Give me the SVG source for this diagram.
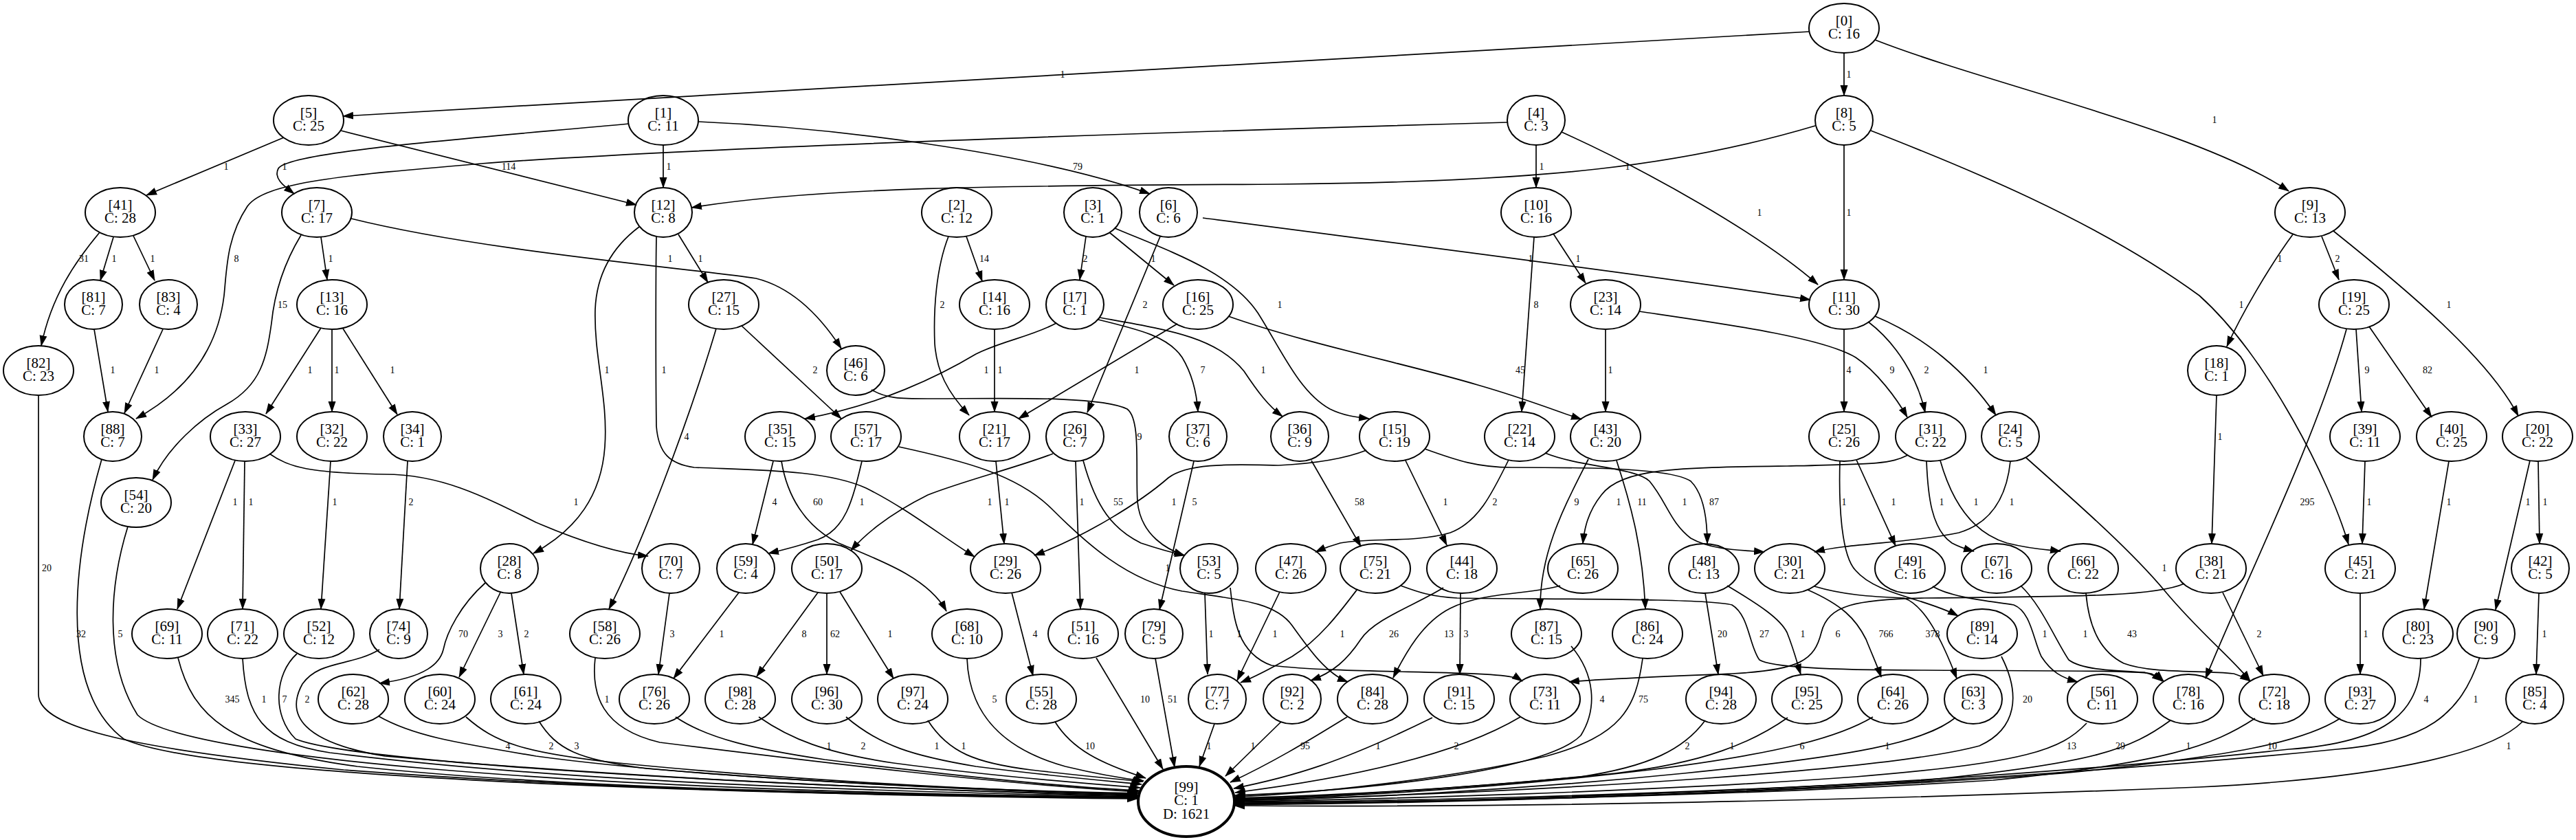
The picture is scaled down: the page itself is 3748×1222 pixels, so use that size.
<svg xmlns="http://www.w3.org/2000/svg" width="3748" height="1222" viewBox="0 0 3748 1222">
<style>
.node ellipse{fill:none;stroke:#000;stroke-width:2}
.node text{font-family:"Liberation Serif","Times New Roman",serif;font-size:21px;text-anchor:middle;fill:#000}
.edges path{fill:none;stroke:#000;stroke-width:1.7;marker-end:url(#ah)}
.lbl text{font-family:"Liberation Serif","Times New Roman",serif;font-size:14px;text-anchor:middle;fill:#000}
</style>
<defs>
<marker id="ah" markerWidth="16" markerHeight="12" refX="15" refY="6" orient="auto" markerUnits="userSpaceOnUse"><path d="M0,0.5L16,6L0,11.5z" fill="#000"/></marker>
</defs>
<rect width="3748" height="1222" fill="#fff"/>
<g id="edges" class="edges">
<path d="M2633,46 L499,169"/>
<path d="M2683,77 L2683,139"/>
<path d="M2728,58 C2900,125 3200,190 3330,278"/>
<path d="M413,200 L213,284"/>
<path d="M496,190 L926,298"/>
<path d="M915,180 C700,200 420,220 405,245 C397,260 415,272 428,282"/>
<path d="M965,211 L965,273"/>
<path d="M1016,177 C1200,185 1500,220 1673,282"/>
<path d="M2193,178 C1700,192 1000,215 700,238 C500,255 385,265 360,300 C330,345 330,390 326,430 C315,520 260,575 198,609"/>
<path d="M2235,211 L2235,273"/>
<path d="M2272,192 C2400,250 2560,340 2645,414"/>
<path d="M2641,183 C2450,240 2250,265 1860,268 C1500,270 1200,270 1006,302"/>
<path d="M2683,211 L2683,407"/>
<path d="M2722,190 C2850,240 3050,320 3200,430 C3300,520 3390,700 3417,792"/>
<path d="M145,338 C110,380 75,430 60,503"/>
<path d="M165,345 L146,408"/>
<path d="M194,343 L225,408"/>
<path d="M438,342 C415,380 400,420 395,470 C388,520 380,560 330,588 C290,610 245,650 222,698"/>
<path d="M467,345 L476,407"/>
<path d="M511,318 C700,365 1000,390 1100,405 C1160,420 1200,470 1224,507"/>
<path d="M930,330 C890,360 868,400 866,450 C864,520 885,580 880,650 C875,720 840,770 776,805"/>
<path d="M987,341 L1030,411"/>
<path d="M955,345 C954,400 954,550 955,620 C958,660 975,675 1010,680 C1100,684 1200,683 1260,710 C1320,740 1370,780 1418,810"/>
<path d="M1380,344 C1362,390 1358,450 1360,500 C1363,540 1378,570 1410,604"/>
<path d="M1406,344 L1429,409"/>
<path d="M1580,344 L1571,407"/>
<path d="M1614,338 L1708,415"/>
<path d="M1622,332 C1700,365 1790,395 1830,455 C1865,510 1890,570 1935,595 C1955,605 1975,607 1992,609"/>
<path d="M1750,317 C2000,350 2400,400 2634,436"/>
<path d="M1688,344 L1582,600"/>
<path d="M2232,345 L2214,599"/>
<path d="M2260,340 L2307,412"/>
<path d="M3336,341 C3300,390 3260,460 3240,504"/>
<path d="M3378,344 L3403,407"/>
<path d="M3395,336 C3500,420 3620,520 3664,605"/>
<path d="M137,479 L157,599"/>
<path d="M237,479 L181,601"/>
<path d="M467,477 L387,602"/>
<path d="M483,479 L483,599"/>
<path d="M499,478 L578,603"/>
<path d="M1042,478 C1000,620 930,800 886,886"/>
<path d="M1079,474 L1224,609"/>
<path d="M1268,567 C1290,580 1310,580 1350,580 C1450,580 1600,575 1640,595 C1660,610 1652,680 1655,730 C1660,780 1700,800 1723,808"/>
<path d="M1447,479 L1447,599"/>
<path d="M1537,470 C1500,490 1460,495 1420,515 C1370,545 1280,590 1171,609"/>
<path d="M1598,465 C1660,480 1700,490 1720,520 C1735,545 1741,570 1743,599"/>
<path d="M1600,462 C1700,480 1770,490 1810,540 C1830,570 1845,590 1866,606"/>
<path d="M1713,471 L1482,609"/>
<path d="M1787,460 C1900,500 2050,530 2150,560 C2220,580 2270,600 2301,610"/>
<path d="M2336,479 L2336,599"/>
<path d="M2385,453 C2500,470 2650,490 2700,520 C2730,540 2760,580 2775,607"/>
<path d="M2683,479 L2683,599"/>
<path d="M2718,468 C2760,500 2790,550 2801,600"/>
<path d="M2728,460 C2800,490 2860,540 2904,604"/>
<path d="M3428,479 L3436,599"/>
<path d="M3447,475 L3538,607"/>
<path d="M3414,479 C3370,640 3260,860 3209,987"/>
<path d="M3225,575 L3218,791"/>
<path d="M3681,670 L3631,887"/>
<path d="M3693,671 L3695,791"/>
<path d="M3441,671 L3437,791"/>
<path d="M3563,671 L3527,886"/>
<path d="M1125,671 L1095,792"/>
<path d="M1137,671 C1145,720 1170,765 1220,790 C1280,815 1350,840 1377,889"/>
<path d="M1254,671 C1240,730 1230,770 1190,785 C1160,795 1140,800 1118,805"/>
<path d="M1308,650 C1400,670 1480,690 1530,740 C1580,790 1640,845 1720,860 C1800,872 1855,875 1880,910 C1905,945 1930,980 1961,992"/>
<path d="M1532,660 C1480,680 1400,700 1350,720 C1300,745 1265,770 1238,801"/>
<path d="M1565,671 L1572,886"/>
<path d="M1576,670 C1595,740 1620,770 1660,790 C1690,800 1705,804 1724,808"/>
<path d="M1737,671 L1687,887"/>
<path d="M1988,655 C1950,670 1900,675 1860,677 C1800,676 1730,672 1700,695 C1660,730 1580,780 1505,808"/>
<path d="M2045,670 L2105,793"/>
<path d="M2073,653 C2120,670 2150,680 2200,680 C2300,680 2430,680 2460,700 C2480,720 2484,760 2484,791"/>
<path d="M2195,669 C2170,720 2150,760 2110,775 C2060,790 1990,782 1950,790 C1935,794 1925,798 1914,803"/>
<path d="M2248,659 C2300,680 2380,680 2400,700 C2425,730 2430,760 2460,783 C2490,800 2530,800 2567,803"/>
<path d="M1908,670 L1980,795"/>
<path d="M2311,668 C2280,730 2240,800 2241,886"/>
<path d="M2352,670 C2375,740 2390,800 2394,886"/>
<path d="M2776,662 C2750,675 2730,675 2600,678 C2450,680 2360,680 2330,720 C2310,745 2305,770 2303,791"/>
<path d="M2677,671 C2675,740 2680,810 2700,830 C2730,865 2800,870 2849,896"/>
<path d="M2701,669 L2758,794"/>
<path d="M2803,671 C2805,720 2810,770 2840,790 C2855,798 2865,800 2872,802"/>
<path d="M2823,670 C2840,730 2870,775 2920,790 C2960,800 2985,800 2998,802"/>
<path d="M2925,671 C2920,720 2900,760 2850,775 C2780,790 2690,790 2640,803"/>
<path d="M2948,666 C3020,730 3100,800 3150,860 C3200,920 3250,960 3274,991"/>
<path d="M974,863 L958,981"/>
<path d="M1075,862 L980,987"/>
<path d="M1190,862 L1101,984"/>
<path d="M1203,863 L1203,981"/>
<path d="M1222,861 L1300,987"/>
<path d="M1472,862 L1503,983"/>
<path d="M1753,863 L1757,981"/>
<path d="M1862,861 L1800,990"/>
<path d="M1975,857 C1950,890 1920,930 1880,955 C1850,972 1825,985 1805,993"/>
<path d="M2100,855 C2060,880 2000,900 1980,930 C1960,960 1940,978 1907,990"/>
<path d="M2125,863 L2124,981"/>
<path d="M2270,852 C2230,865 2160,860 2110,885 C2070,905 2045,950 2027,986"/>
<path d="M1790,855 C1795,900 1800,950 1850,968 C1950,980 2150,975 2200,985 C2208,987 2212,989 2215,991"/>
<path d="M3178,849 C3140,866 3050,868 2800,870 C2700,872 2660,880 2650,920 C2640,960 2620,975 2520,980 C2400,985 2320,988 2283,992"/>
<path d="M2038,852 C2060,860 2080,868 2120,870 C2250,872 2480,870 2520,880 C2545,895 2545,940 2560,960 C2580,973 2700,975 2800,975 C2950,976 3100,975 3130,980 C3140,985 3145,988 3148,991"/>
<path d="M2481,863 L2500,981"/>
<path d="M2513,852 C2560,880 2590,900 2600,920 C2610,945 2615,965 2620,981"/>
<path d="M2630,858 C2680,880 2700,900 2715,930 C2725,955 2732,970 2737,985"/>
<path d="M2640,853 C2680,865 2720,868 2770,870 C2800,880 2825,930 2847,987"/>
<path d="M2812,853 C2840,870 2900,875 2930,880 C2955,890 2958,930 2970,955 C2985,978 3000,986 3023,992"/>
<path d="M2940,852 C2970,880 2990,930 3010,960 C3030,975 3080,976 3120,978 C3135,982 3142,988 3146,991"/>
<path d="M3035,863 C3040,920 3060,950 3090,965 C3130,980 3200,975 3250,980 C3262,984 3268,987 3274,991"/>
<path d="M3234,862 L3293,983"/>
<path d="M3434,863 L3434,981"/>
<path d="M3694,863 L3690,981"/>
<path d="M706,848 C670,880 650,920 645,945 C640,965 620,985 552,994"/>
<path d="M728,862 L668,985"/>
<path d="M744,863 L762,981"/>
<path d="M342,670 L258,886"/>
<path d="M356,671 L353,886"/>
<path d="M392,660 C420,680 450,688 560,690 C640,690 700,720 780,760 C850,790 900,805 943,809"/>
<path d="M481,671 L467,886"/>
<path d="M593,671 L581,886"/>
<path d="M1449,671 L1461,791"/>
<path d="M56,575 L56,1010 C56,1060 200,1090 500,1120 C900,1150 1300,1158 1655,1162"/>
<path d="M148,668 C110,800 80,1000 180,1075 C300,1130 1000,1155 1655,1161"/>
<path d="M186,766 C160,850 150,960 200,1040 C260,1100 800,1150 1655,1160"/>
<path d="M259,957 C280,1040 330,1090 520,1115 C800,1145 1200,1155 1655,1160"/>
<path d="M353,958 C358,1040 380,1080 480,1095 C800,1135 1200,1150 1655,1159"/>
<path d="M432,951 C400,980 395,1040 430,1075 C500,1105 1000,1140 1655,1158"/>
<path d="M552,945 C510,970 465,960 440,995 C415,1040 440,1080 560,1100 C900,1130 1300,1150 1655,1157"/>
<path d="M551,1042 C600,1070 660,1080 780,1100 C1000,1130 1400,1150 1655,1156"/>
<path d="M678,1043 C720,1080 760,1095 900,1110 C1100,1130 1400,1150 1655,1155"/>
<path d="M784,1049 C810,1090 840,1105 940,1118 C1200,1140 1450,1150 1656,1154"/>
<path d="M866,957 C860,1010 875,1060 960,1080 C1200,1110 1450,1140 1657,1152"/>
<path d="M983,1043 C1030,1075 1100,1090 1200,1105 C1400,1130 1550,1145 1657,1150"/>
<path d="M1104,1043 C1150,1075 1200,1095 1300,1110 C1450,1130 1580,1140 1659,1146"/>
<path d="M1231,1043 C1280,1085 1330,1100 1420,1115 C1520,1128 1600,1135 1661,1141"/>
<path d="M1350,1048 C1380,1095 1420,1110 1500,1120 C1560,1127 1620,1133 1663,1137"/>
<path d="M1407,958 C1410,1040 1460,1090 1550,1115 C1600,1127 1630,1132 1664,1136"/>
<path d="M1535,1050 C1560,1090 1600,1110 1667,1132"/>
<path d="M1595,957 L1692,1119"/>
<path d="M1681,958 L1709,1116"/>
<path d="M1767,1053 L1745,1115"/>
<path d="M1864,1050 L1783,1129"/>
<path d="M1960,1043 C1900,1080 1850,1110 1790,1138"/>
<path d="M2084,1044 C1950,1110 1880,1130 1795,1147"/>
<path d="M2212,1043 C2100,1110 1900,1140 1797,1153"/>
<path d="M2286,940 C2320,980 2325,1030 2300,1070 C2250,1120 2000,1150 1797,1157"/>
<path d="M2390,958 C2380,1030 2360,1070 2250,1100 C2100,1135 1900,1155 1797,1159"/>
<path d="M2481,1048 C2450,1090 2400,1115 2300,1130 C2100,1150 1900,1158 1796,1161"/>
<path d="M2601,1044 C2550,1080 2480,1110 2350,1125 C2100,1150 1900,1160 1796,1162"/>
<path d="M2725,1043 C2680,1070 2600,1095 2400,1120 C2150,1150 1900,1162 1796,1163"/>
<path d="M2845,1044 C2800,1080 2700,1100 2450,1125 C2200,1150 1950,1163 1796,1164"/>
<path d="M2912,955 C2940,1010 2935,1060 2880,1085 C2750,1120 2300,1150 1796,1165"/>
<path d="M3036,1052 C3000,1090 2950,1110 2700,1130 C2400,1152 2000,1163 1796,1166"/>
<path d="M3158,1048 C3100,1090 3050,1110 2800,1135 C2400,1158 2000,1166 1796,1167"/>
<path d="M3281,1045 C3220,1085 3150,1110 2900,1135 C2500,1160 2000,1168 1796,1168"/>
<path d="M3405,1045 C3350,1080 3250,1100 3000,1125 C2600,1155 2100,1168 1796,1169"/>
<path d="M3522,958 C3522,1030 3480,1080 3330,1090 C3100,1115 2600,1160 1796,1170"/>
<path d="M3608,956 C3580,1040 3530,1080 3400,1090 C3100,1120 2500,1165 1796,1171"/>
<path d="M3670,1050 C3630,1090 3500,1130 3200,1145 C2700,1165 2200,1175 1796,1172"/>
</g>
<g id="labels" class="lbl">
<text x="1546" y="113">1</text><text x="2690" y="113">1</text><text x="3222" y="179">1</text>
<text x="329" y="247">1</text><text x="740" y="247">114</text><text x="414" y="247">1</text><text x="973" y="247">1</text><text x="1568" y="247">79</text><text x="2243" y="247">1</text><text x="2368" y="247">1</text>
<text x="344" y="381">8</text><text x="2560" y="314">1</text><text x="2690" y="314">1</text>
<text x="122" y="381">31</text><text x="166" y="381">1</text><text x="222" y="381">1</text><text x="411" y="448">15</text><text x="481" y="381">1</text>
<text x="975" y="381">1</text><text x="1019" y="381">1</text><text x="883" y="543">1</text><text x="966" y="543">1</text>
<text x="1371" y="448">2</text><text x="1432" y="381">14</text><text x="1579" y="381">2</text><text x="1678" y="381">1</text><text x="1862" y="448">1</text>
<text x="2227" y="381">1</text><text x="1666" y="448">2</text><text x="2235" y="448">8</text><text x="2212" y="543">45</text><text x="2296" y="381">1</text>
<text x="3317" y="381">1</text><text x="3401" y="381">2</text><text x="3563" y="448">1</text><text x="3261" y="448">1</text>
<text x="164" y="543">1</text><text x="228" y="543">1</text><text x="451" y="543">1</text><text x="490" y="543">1</text><text x="571" y="543">1</text>
<text x="68" y="831">20</text><text x="118" y="927">32</text><text x="175" y="927">5</text>
<text x="342" y="735">1</text><text x="365" y="735">1</text><text x="838" y="735">1</text><text x="487" y="735">1</text><text x="598" y="735">2</text>
<text x="338" y="1022">345</text><text x="384" y="1022">1</text><text x="414" y="1022">7</text><text x="447" y="1022">2</text>
<text x="674" y="927">70</text><text x="728" y="927">3</text><text x="766" y="927">2</text>
<text x="739" y="1090">4</text><text x="802" y="1090">2</text><text x="839" y="1090">3</text><text x="883" y="1022">1</text>
<text x="999" y="640">4</text><text x="1186" y="543">2</text><text x="1658" y="640">9</text><text x="1455" y="543">1</text><text x="1435" y="543">1</text>
<text x="1750" y="543">7</text><text x="1838" y="543">1</text><text x="1654" y="543">1</text><text x="2343" y="543">1</text><text x="2753" y="543">9</text>
<text x="2690" y="543">4</text><text x="2803" y="543">2</text><text x="2889" y="543">1</text><text x="3444" y="543">9</text><text x="3532" y="543">82</text>
<text x="3357" y="735">295</text><text x="3230" y="640">1</text><text x="3678" y="735">1</text><text x="3703" y="735">1</text><text x="3447" y="735">1</text><text x="3563" y="735">1</text>
<text x="1127" y="735">4</text><text x="1190" y="735">60</text><text x="1254" y="735">1</text><text x="1440" y="735">1</text><text x="1465" y="735">1</text>
<text x="1574" y="735">1</text><text x="1627" y="735">55</text><text x="1708" y="735">1</text><text x="1738" y="735">5</text><text x="1699" y="831">1</text>
<text x="1978" y="735">58</text><text x="2103" y="735">1</text><text x="2175" y="735">2</text><text x="2294" y="735">9</text><text x="2355" y="735">1</text>
<text x="2389" y="735">11</text><text x="2451" y="735">1</text><text x="2494" y="735">87</text><text x="2683" y="735">1</text><text x="2755" y="735">1</text>
<text x="2825" y="735">1</text><text x="2875" y="735">1</text><text x="2927" y="735">1</text><text x="3149" y="831">1</text>
<text x="978" y="927">3</text><text x="1050" y="927">1</text><text x="1170" y="927">8</text><text x="1215" y="927">62</text><text x="1295" y="927">1</text>
<text x="1506" y="927">4</text><text x="1762" y="927">1</text><text x="1803" y="927">1</text><text x="1855" y="927">1</text><text x="1953" y="927">1</text>
<text x="2028" y="927">26</text><text x="2108" y="927">13</text><text x="2133" y="927">3</text><text x="2567" y="927">27</text><text x="2674" y="927">6</text>
<text x="2506" y="927">20</text><text x="2623" y="927">1</text><text x="2744" y="927">766</text><text x="2812" y="927">378</text>
<text x="2975" y="927">1</text><text x="3034" y="927">1</text><text x="3102" y="927">43</text><text x="3287" y="927">2</text><text x="3442" y="927">1</text><text x="3702" y="927">1</text>
<text x="1823" y="1090">1</text><text x="1759" y="1090">1</text><text x="1899" y="1090">95</text><text x="2005" y="1090">1</text><text x="2119" y="1090">2</text>
<text x="2331" y="1022">4</text><text x="2391" y="1022">75</text><text x="2455" y="1090">2</text><text x="2520" y="1090">1</text><text x="2622" y="1090">6</text>
<text x="2746" y="1090">1</text><text x="2950" y="1022">20</text><text x="3014" y="1090">13</text><text x="3085" y="1090">29</text><text x="3184" y="1090">1</text>
<text x="3306" y="1090">10</text><text x="3530" y="1022">4</text><text x="3602" y="1022">1</text><text x="3650" y="1090">1</text>
<text x="1206" y="1090">1</text><text x="1256" y="1090">2</text><text x="1363" y="1090">1</text><text x="1402" y="1090">1</text><text x="1586" y="1090">10</text>
<text x="1447" y="1022">5</text><text x="1666" y="1022">10</text><text x="1706" y="1022">51</text>
</g>
<g id="n0" class="node"><ellipse cx="2683" cy="41" rx="51" ry="36"/><text x="2683" y="37">[0]</text><text x="2683" y="56">C: 16</text></g>
<g id="n5" class="node"><ellipse cx="449" cy="175" rx="51" ry="36"/><text x="449" y="171">[5]</text><text x="449" y="190">C: 25</text></g>
<g id="n1" class="node"><ellipse cx="965" cy="175" rx="51" ry="36"/><text x="965" y="171">[1]</text><text x="965" y="190">C: 11</text></g>
<g id="n4" class="node"><ellipse cx="2235" cy="175" rx="42" ry="36"/><text x="2235" y="171">[4]</text><text x="2235" y="190">C: 3</text></g>
<g id="n8" class="node"><ellipse cx="2683" cy="175" rx="42" ry="36"/><text x="2683" y="171">[8]</text><text x="2683" y="190">C: 5</text></g>
<g id="n41" class="node"><ellipse cx="175" cy="309" rx="51" ry="36"/><text x="175" y="305">[41]</text><text x="175" y="324">C: 28</text></g>
<g id="n7" class="node"><ellipse cx="461" cy="309" rx="51" ry="36"/><text x="461" y="305">[7]</text><text x="461" y="324">C: 17</text></g>
<g id="n12" class="node"><ellipse cx="965" cy="309" rx="42" ry="36"/><text x="965" y="305">[12]</text><text x="965" y="324">C: 8</text></g>
<g id="n2" class="node"><ellipse cx="1392" cy="309" rx="51" ry="36"/><text x="1392" y="305">[2]</text><text x="1392" y="324">C: 12</text></g>
<g id="n3" class="node"><ellipse cx="1590" cy="309" rx="42" ry="36"/><text x="1590" y="305">[3]</text><text x="1590" y="324">C: 1</text></g>
<g id="n6" class="node"><ellipse cx="1700" cy="309" rx="42" ry="36"/><text x="1700" y="305">[6]</text><text x="1700" y="324">C: 6</text></g>
<g id="n10" class="node"><ellipse cx="2235" cy="309" rx="51" ry="36"/><text x="2235" y="305">[10]</text><text x="2235" y="324">C: 16</text></g>
<g id="n9" class="node"><ellipse cx="3361" cy="309" rx="51" ry="36"/><text x="3361" y="305">[9]</text><text x="3361" y="324">C: 13</text></g>
<g id="n81" class="node"><ellipse cx="136" cy="443" rx="42" ry="36"/><text x="136" y="439">[81]</text><text x="136" y="458">C: 7</text></g>
<g id="n83" class="node"><ellipse cx="245" cy="443" rx="42" ry="36"/><text x="245" y="439">[83]</text><text x="245" y="458">C: 4</text></g>
<g id="n13" class="node"><ellipse cx="483" cy="443" rx="51" ry="36"/><text x="483" y="439">[13]</text><text x="483" y="458">C: 16</text></g>
<g id="n27" class="node"><ellipse cx="1053" cy="443" rx="51" ry="36"/><text x="1053" y="439">[27]</text><text x="1053" y="458">C: 15</text></g>
<g id="n14" class="node"><ellipse cx="1447" cy="443" rx="51" ry="36"/><text x="1447" y="439">[14]</text><text x="1447" y="458">C: 16</text></g>
<g id="n17" class="node"><ellipse cx="1564" cy="443" rx="42" ry="36"/><text x="1564" y="439">[17]</text><text x="1564" y="458">C: 1</text></g>
<g id="n16" class="node"><ellipse cx="1743" cy="443" rx="51" ry="36"/><text x="1743" y="439">[16]</text><text x="1743" y="458">C: 25</text></g>
<g id="n23" class="node"><ellipse cx="2336" cy="443" rx="51" ry="36"/><text x="2336" y="439">[23]</text><text x="2336" y="458">C: 14</text></g>
<g id="n11" class="node"><ellipse cx="2683" cy="443" rx="51" ry="36"/><text x="2683" y="439">[11]</text><text x="2683" y="458">C: 30</text></g>
<g id="n19" class="node"><ellipse cx="3425" cy="443" rx="51" ry="36"/><text x="3425" y="439">[19]</text><text x="3425" y="458">C: 25</text></g>
<g id="n82" class="node"><ellipse cx="56" cy="539" rx="51" ry="36"/><text x="56" y="535">[82]</text><text x="56" y="554">C: 23</text></g>
<g id="n46" class="node"><ellipse cx="1245" cy="539" rx="42" ry="36"/><text x="1245" y="535">[46]</text><text x="1245" y="554">C: 6</text></g>
<g id="n18" class="node"><ellipse cx="3225" cy="539" rx="42" ry="36"/><text x="3225" y="535">[18]</text><text x="3225" y="554">C: 1</text></g>
<g id="n88" class="node"><ellipse cx="164" cy="635" rx="42" ry="36"/><text x="164" y="631">[88]</text><text x="164" y="650">C: 7</text></g>
<g id="n33" class="node"><ellipse cx="357" cy="635" rx="51" ry="36"/><text x="357" y="631">[33]</text><text x="357" y="650">C: 27</text></g>
<g id="n32" class="node"><ellipse cx="483" cy="635" rx="51" ry="36"/><text x="483" y="631">[32]</text><text x="483" y="650">C: 22</text></g>
<g id="n34" class="node"><ellipse cx="600" cy="635" rx="42" ry="36"/><text x="600" y="631">[34]</text><text x="600" y="650">C: 1</text></g>
<g id="n35" class="node"><ellipse cx="1135" cy="635" rx="51" ry="36"/><text x="1135" y="631">[35]</text><text x="1135" y="650">C: 15</text></g>
<g id="n57" class="node"><ellipse cx="1260" cy="635" rx="51" ry="36"/><text x="1260" y="631">[57]</text><text x="1260" y="650">C: 17</text></g>
<g id="n21" class="node"><ellipse cx="1447" cy="635" rx="51" ry="36"/><text x="1447" y="631">[21]</text><text x="1447" y="650">C: 17</text></g>
<g id="n26" class="node"><ellipse cx="1564" cy="635" rx="42" ry="36"/><text x="1564" y="631">[26]</text><text x="1564" y="650">C: 7</text></g>
<g id="n37" class="node"><ellipse cx="1743" cy="635" rx="42" ry="36"/><text x="1743" y="631">[37]</text><text x="1743" y="650">C: 6</text></g>
<g id="n36" class="node"><ellipse cx="1891" cy="635" rx="42" ry="36"/><text x="1891" y="631">[36]</text><text x="1891" y="650">C: 9</text></g>
<g id="n15" class="node"><ellipse cx="2029" cy="635" rx="51" ry="36"/><text x="2029" y="631">[15]</text><text x="2029" y="650">C: 19</text></g>
<g id="n22" class="node"><ellipse cx="2211" cy="635" rx="51" ry="36"/><text x="2211" y="631">[22]</text><text x="2211" y="650">C: 14</text></g>
<g id="n43" class="node"><ellipse cx="2336" cy="635" rx="51" ry="36"/><text x="2336" y="631">[43]</text><text x="2336" y="650">C: 20</text></g>
<g id="n25" class="node"><ellipse cx="2683" cy="635" rx="51" ry="36"/><text x="2683" y="631">[25]</text><text x="2683" y="650">C: 26</text></g>
<g id="n31" class="node"><ellipse cx="2809" cy="635" rx="51" ry="36"/><text x="2809" y="631">[31]</text><text x="2809" y="650">C: 22</text></g>
<g id="n24" class="node"><ellipse cx="2925" cy="635" rx="42" ry="36"/><text x="2925" y="631">[24]</text><text x="2925" y="650">C: 5</text></g>
<g id="n39" class="node"><ellipse cx="3441" cy="635" rx="51" ry="36"/><text x="3441" y="631">[39]</text><text x="3441" y="650">C: 11</text></g>
<g id="n40" class="node"><ellipse cx="3567" cy="635" rx="51" ry="36"/><text x="3567" y="631">[40]</text><text x="3567" y="650">C: 25</text></g>
<g id="n20" class="node"><ellipse cx="3692" cy="635" rx="51" ry="36"/><text x="3692" y="631">[20]</text><text x="3692" y="650">C: 22</text></g>
<g id="n54" class="node"><ellipse cx="198" cy="731" rx="51" ry="36"/><text x="198" y="727">[54]</text><text x="198" y="746">C: 20</text></g>
<g id="n28" class="node"><ellipse cx="741" cy="827" rx="42" ry="36"/><text x="741" y="823">[28]</text><text x="741" y="842">C: 8</text></g>
<g id="n70" class="node"><ellipse cx="976" cy="827" rx="42" ry="36"/><text x="976" y="823">[70]</text><text x="976" y="842">C: 7</text></g>
<g id="n59" class="node"><ellipse cx="1085" cy="827" rx="42" ry="36"/><text x="1085" y="823">[59]</text><text x="1085" y="842">C: 4</text></g>
<g id="n50" class="node"><ellipse cx="1203" cy="827" rx="51" ry="36"/><text x="1203" y="823">[50]</text><text x="1203" y="842">C: 17</text></g>
<g id="n29" class="node"><ellipse cx="1463" cy="827" rx="51" ry="36"/><text x="1463" y="823">[29]</text><text x="1463" y="842">C: 26</text></g>
<g id="n53" class="node"><ellipse cx="1759" cy="827" rx="42" ry="36"/><text x="1759" y="823">[53]</text><text x="1759" y="842">C: 5</text></g>
<g id="n47" class="node"><ellipse cx="1878" cy="827" rx="51" ry="36"/><text x="1878" y="823">[47]</text><text x="1878" y="842">C: 26</text></g>
<g id="n75" class="node"><ellipse cx="2001" cy="827" rx="51" ry="36"/><text x="2001" y="823">[75]</text><text x="2001" y="842">C: 21</text></g>
<g id="n44" class="node"><ellipse cx="2127" cy="827" rx="51" ry="36"/><text x="2127" y="823">[44]</text><text x="2127" y="842">C: 18</text></g>
<g id="n65" class="node"><ellipse cx="2303" cy="827" rx="51" ry="36"/><text x="2303" y="823">[65]</text><text x="2303" y="842">C: 26</text></g>
<g id="n48" class="node"><ellipse cx="2479" cy="827" rx="51" ry="36"/><text x="2479" y="823">[48]</text><text x="2479" y="842">C: 13</text></g>
<g id="n30" class="node"><ellipse cx="2604" cy="827" rx="51" ry="36"/><text x="2604" y="823">[30]</text><text x="2604" y="842">C: 21</text></g>
<g id="n49" class="node"><ellipse cx="2779" cy="827" rx="51" ry="36"/><text x="2779" y="823">[49]</text><text x="2779" y="842">C: 16</text></g>
<g id="n67" class="node"><ellipse cx="2905" cy="827" rx="51" ry="36"/><text x="2905" y="823">[67]</text><text x="2905" y="842">C: 16</text></g>
<g id="n66" class="node"><ellipse cx="3031" cy="827" rx="51" ry="36"/><text x="3031" y="823">[66]</text><text x="3031" y="842">C: 22</text></g>
<g id="n38" class="node"><ellipse cx="3217" cy="827" rx="51" ry="36"/><text x="3217" y="823">[38]</text><text x="3217" y="842">C: 21</text></g>
<g id="n45" class="node"><ellipse cx="3434" cy="827" rx="51" ry="36"/><text x="3434" y="823">[45]</text><text x="3434" y="842">C: 21</text></g>
<g id="n42" class="node"><ellipse cx="3696" cy="827" rx="42" ry="36"/><text x="3696" y="823">[42]</text><text x="3696" y="842">C: 5</text></g>
<g id="n69" class="node"><ellipse cx="243" cy="922" rx="51" ry="36"/><text x="243" y="918">[69]</text><text x="243" y="937">C: 11</text></g>
<g id="n71" class="node"><ellipse cx="353" cy="922" rx="51" ry="36"/><text x="353" y="918">[71]</text><text x="353" y="937">C: 22</text></g>
<g id="n52" class="node"><ellipse cx="464" cy="922" rx="51" ry="36"/><text x="464" y="918">[52]</text><text x="464" y="937">C: 12</text></g>
<g id="n74" class="node"><ellipse cx="580" cy="922" rx="42" ry="36"/><text x="580" y="918">[74]</text><text x="580" y="937">C: 9</text></g>
<g id="n58" class="node"><ellipse cx="880" cy="922" rx="51" ry="36"/><text x="880" y="918">[58]</text><text x="880" y="937">C: 26</text></g>
<g id="n68" class="node"><ellipse cx="1407" cy="922" rx="51" ry="36"/><text x="1407" y="918">[68]</text><text x="1407" y="937">C: 10</text></g>
<g id="n51" class="node"><ellipse cx="1576" cy="922" rx="51" ry="36"/><text x="1576" y="918">[51]</text><text x="1576" y="937">C: 16</text></g>
<g id="n79" class="node"><ellipse cx="1679" cy="922" rx="42" ry="36"/><text x="1679" y="918">[79]</text><text x="1679" y="937">C: 5</text></g>
<g id="n87" class="node"><ellipse cx="2250" cy="922" rx="51" ry="36"/><text x="2250" y="918">[87]</text><text x="2250" y="937">C: 15</text></g>
<g id="n86" class="node"><ellipse cx="2397" cy="922" rx="51" ry="36"/><text x="2397" y="918">[86]</text><text x="2397" y="937">C: 24</text></g>
<g id="n89" class="node"><ellipse cx="2884" cy="922" rx="51" ry="36"/><text x="2884" y="918">[89]</text><text x="2884" y="937">C: 14</text></g>
<g id="n80" class="node"><ellipse cx="3518" cy="922" rx="51" ry="36"/><text x="3518" y="918">[80]</text><text x="3518" y="937">C: 23</text></g>
<g id="n90" class="node"><ellipse cx="3617" cy="922" rx="42" ry="36"/><text x="3617" y="918">[90]</text><text x="3617" y="937">C: 9</text></g>
<g id="n62" class="node"><ellipse cx="514" cy="1017" rx="51" ry="36"/><text x="514" y="1013">[62]</text><text x="514" y="1032">C: 28</text></g>
<g id="n60" class="node"><ellipse cx="640" cy="1017" rx="51" ry="36"/><text x="640" y="1013">[60]</text><text x="640" y="1032">C: 24</text></g>
<g id="n61" class="node"><ellipse cx="765" cy="1017" rx="51" ry="36"/><text x="765" y="1013">[61]</text><text x="765" y="1032">C: 24</text></g>
<g id="n76" class="node"><ellipse cx="952" cy="1017" rx="51" ry="36"/><text x="952" y="1013">[76]</text><text x="952" y="1032">C: 26</text></g>
<g id="n98" class="node"><ellipse cx="1077" cy="1017" rx="51" ry="36"/><text x="1077" y="1013">[98]</text><text x="1077" y="1032">C: 28</text></g>
<g id="n96" class="node"><ellipse cx="1203" cy="1017" rx="51" ry="36"/><text x="1203" y="1013">[96]</text><text x="1203" y="1032">C: 30</text></g>
<g id="n97" class="node"><ellipse cx="1328" cy="1017" rx="51" ry="36"/><text x="1328" y="1013">[97]</text><text x="1328" y="1032">C: 24</text></g>
<g id="n55" class="node"><ellipse cx="1515" cy="1017" rx="51" ry="36"/><text x="1515" y="1013">[55]</text><text x="1515" y="1032">C: 28</text></g>
<g id="n77" class="node"><ellipse cx="1771" cy="1017" rx="42" ry="36"/><text x="1771" y="1013">[77]</text><text x="1771" y="1032">C: 7</text></g>
<g id="n92" class="node"><ellipse cx="1880" cy="1017" rx="42" ry="36"/><text x="1880" y="1013">[92]</text><text x="1880" y="1032">C: 2</text></g>
<g id="n84" class="node"><ellipse cx="1997" cy="1017" rx="51" ry="36"/><text x="1997" y="1013">[84]</text><text x="1997" y="1032">C: 28</text></g>
<g id="n91" class="node"><ellipse cx="2123" cy="1017" rx="51" ry="36"/><text x="2123" y="1013">[91]</text><text x="2123" y="1032">C: 15</text></g>
<g id="n73" class="node"><ellipse cx="2248" cy="1017" rx="51" ry="36"/><text x="2248" y="1013">[73]</text><text x="2248" y="1032">C: 11</text></g>
<g id="n94" class="node"><ellipse cx="2504" cy="1017" rx="51" ry="36"/><text x="2504" y="1013">[94]</text><text x="2504" y="1032">C: 28</text></g>
<g id="n95" class="node"><ellipse cx="2629" cy="1017" rx="51" ry="36"/><text x="2629" y="1013">[95]</text><text x="2629" y="1032">C: 25</text></g>
<g id="n64" class="node"><ellipse cx="2754" cy="1017" rx="51" ry="36"/><text x="2754" y="1013">[64]</text><text x="2754" y="1032">C: 26</text></g>
<g id="n63" class="node"><ellipse cx="2871" cy="1017" rx="42" ry="36"/><text x="2871" y="1013">[63]</text><text x="2871" y="1032">C: 3</text></g>
<g id="n56" class="node"><ellipse cx="3059" cy="1017" rx="51" ry="36"/><text x="3059" y="1013">[56]</text><text x="3059" y="1032">C: 11</text></g>
<g id="n78" class="node"><ellipse cx="3184" cy="1017" rx="51" ry="36"/><text x="3184" y="1013">[78]</text><text x="3184" y="1032">C: 16</text></g>
<g id="n72" class="node"><ellipse cx="3309" cy="1017" rx="51" ry="36"/><text x="3309" y="1013">[72]</text><text x="3309" y="1032">C: 18</text></g>
<g id="n93" class="node"><ellipse cx="3434" cy="1017" rx="51" ry="36"/><text x="3434" y="1013">[93]</text><text x="3434" y="1032">C: 27</text></g>
<g id="n85" class="node"><ellipse cx="3688" cy="1017" rx="42" ry="36"/><text x="3688" y="1013">[85]</text><text x="3688" y="1032">C: 4</text></g>
<g id="n99" class="node"><ellipse cx="1726" cy="1166" rx="70" ry="51" style="stroke-width:4"/><text x="1726" y="1152">[99]</text><text x="1726" y="1171">C: 1</text><text x="1726" y="1191">D: 1621</text></g>
</svg>
